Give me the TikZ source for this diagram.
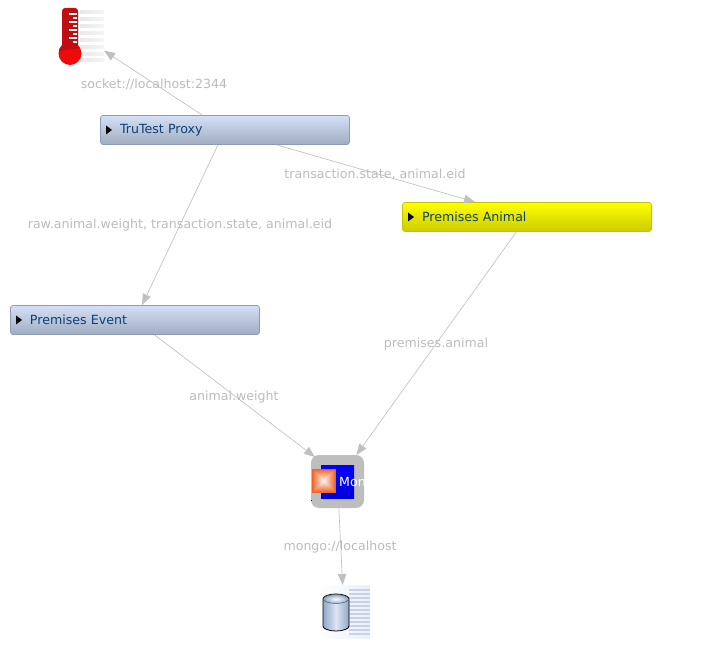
\documentclass[tikz,border=0pt]{standalone}
\usepackage{fontspec}
\setmainfont{DejaVu Sans}
\usetikzlibrary{arrows.meta,calc}
\definecolor{edgegray}{HTML}{C0C0C0}
\definecolor{labelgray}{HTML}{BBBBBB}
\definecolor{boxgray}{HTML}{BEBEBE}
\definecolor{titleblue}{HTML}{0F3F75}
\definecolor{bluetop}{HTML}{D4E0F8}
\definecolor{bluebot}{HTML}{A0ACBF}
\definecolor{blueedge}{HTML}{8C9DB3}
\definecolor{yellowedge}{HTML}{C4C400}
\definecolor{squareorange}{HTML}{EE6428}
\definecolor{dbside}{HTML}{8FA6C8}
\definecolor{dblight}{HTML}{DCE6F4}
\definecolor{dbstripe}{HTML}{C8D2E4}
\definecolor{thermodark}{HTML}{C00D12}
\definecolor{thermored}{HTML}{EE0A0A}
\tikzset{
  conn/.style={draw=edgegray,line width=0.65pt,-{Triangle[length=11pt,width=8.5pt,fill=edgegray,color=edgegray]}},
  lbl/.style={text=labelgray,font=\fontsize{12.6}{15}\selectfont,inner sep=0pt},
  stepnode/.style={rectangle,rounded corners=2.5pt,minimum width=249pt,minimum height=29pt,text width=249pt,inner xsep=0pt,inner ysep=0pt,align=left,text=titleblue,font=\fontsize{12.6}{15}\selectfont,line width=0.7pt,outer sep=0.5pt},
  bluenode/.style={stepnode,draw=blueedge,top color=bluetop,bottom color=bluebot},
  yellownode/.style={stepnode,draw=yellowedge,top color=yellow,bottom color=yellow!80!black},
  holder/.style={rectangle,inner sep=0pt,outer sep=0pt},
}
\newcommand{\steptri}[1]{\fill[black] ($(#1.west)+(6,-4.5)$) -- ($(#1.west)+(12,0)$) -- ($(#1.west)+(6,4.5)$) -- cycle;}
\begin{document}
\begin{tikzpicture}[x=1pt,y=-1pt]
\useasboundingbox (0,0) rectangle (702,660);
% nodes
\node[holder,minimum width=48pt,minimum height=52pt] (thermo) at (80,35) {};
\node[bluenode] (proxy) at (225,130) {\hspace*{19.5pt}\raisebox{-0.5pt}{TruTest Proxy}};
\node[yellownode] (animal) at (527,217) {\hspace*{19.5pt}Premises Animal};
\node[bluenode] (event) at (135,320) {\hspace*{19.5pt}Premises Event};
\node[holder,minimum width=53pt,minimum height=53pt] (mongo) at (337.5,481.5) {};
\node[holder,minimum width=52pt,minimum height=54pt] (db) at (344,612) {};
\coordinate (mongoin) at (315,457);
\steptri{proxy}\steptri{animal}\steptri{event}
% thermometer
\foreach \yy in {12,19,26,33,40,47,54,60}
  \shade[left color=black!9,right color=black!4] (80,\yy-1.5) rectangle (104,\yy+1.5);
\fill[thermodark,rounded corners=3pt] (62,50) -- (62,8) -- (78,8) -- (78,50) -- cycle;
\fill[thermored] (70,53.5) circle[radius=11.5];
\begin{scope}
\clip (70,53.5) circle[radius=11.5];
\fill[thermodark] (58,52) .. controls (64,49.5) and (74,49.5) .. (82,47.5) -- (82,42) -- (58,42) -- cycle;
\end{scope}
\foreach \yy/\xx in {14/69,18/73,22/69,26/73,30/69,34/73,38/69,42/73}
  \fill[white] (\xx,\yy-1) rectangle (77,\yy+1);
% mongo box
\fill[boxgray,rounded corners=8pt] (311,455) rectangle (364,508);
\shade[top color=blue,bottom color=blue!85!black] (321,465) rectangle (354,498);
\foreach \i in {0,...,11}{
  \pgfmathsetmacro{\mixv}{int(8.3*\i)}
  \fill[white!\mixv!squareorange] (312+\i,469+\i) rectangle (336-\i,493-\i);
}
\begin{scope}
\clip (311,455) rectangle (363,508);
\node[anchor=west,text=white,font=\fontsize{12.6}{15}\selectfont,inner sep=0pt] (mongotext) at (339,481.5) {Mon};
\end{scope}
\fill[blue] (311,500) rectangle (312,501);
% database
\shade[left color=white,right color=dblight!60!white] (317,585) rectangle (370,638);
\foreach \yy in {589,593,597,601,605,609,613,617,621,625,629,633}
  \fill[dbstripe] (349,\yy) rectangle (370,\yy+2);
\shade[left color=dbside,right color=dbside,middle color=dblight,draw=black,line width=0.8pt]
  (323,599) arc[start angle=180,end angle=360,x radius=13,y radius=5] -- (349,626) arc[start angle=0,end angle=180,x radius=13,y radius=5] -- cycle;
\shade[inner color=white,outer color=dbside,draw=black!70,line width=0.4pt] (336,599) ellipse[x radius=12.5,y radius=4.5];
% connectors
\draw[conn] (proxy) -- (thermo);
\draw[conn] (proxy) -- (animal);
\draw[conn] (proxy) -- (event);
\draw[conn] (event) -- (mongoin);
\draw[conn] (animal) -- (mongo);
\draw[conn] (mongo) -- (db);
% labels
\node[lbl] (l1) at (154,84.5) {socket://localhost:2344};
\node[lbl] (l2) at (375,174.5) {transaction.state, animal.eid};
\node[lbl] (l3) at (180,225.5) {raw.animal.weight, transaction.state, animal.eid};
\node[lbl] (l4) at (436,344.5) {premises.animal};
\node[lbl] (l5) at (234,397.5) {animal.weight};
\node[lbl] (l6) at (340,547.5) {mongo://localhost};
\end{tikzpicture}
\end{document}
